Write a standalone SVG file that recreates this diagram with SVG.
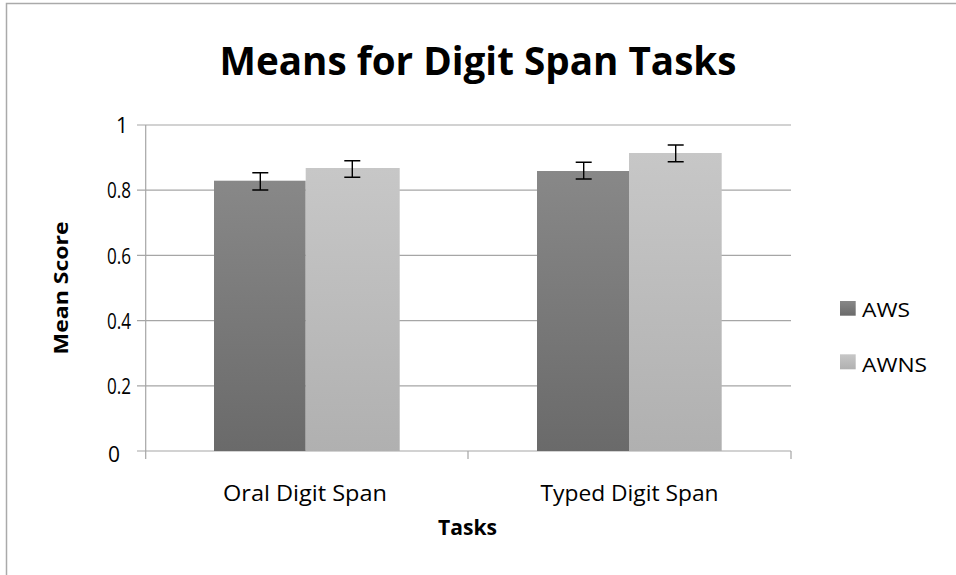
<svg xmlns="http://www.w3.org/2000/svg" width="956" height="575" viewBox="0 0 956 575">
<style>
.grid{stroke:#a6a6a6;stroke-width:1.2;fill:none}
.err{stroke:#000;stroke-width:1.4;fill:none}
.t{font-family:"Open Sans","Liberation Sans",sans-serif;fill:#000}
.lab{font-size:21px}
.b{font-weight:bold}
</style>
<defs>
<linearGradient id="gDark" x1="0" y1="0" x2="0" y2="1">
<stop offset="0" stop-color="#888888"/><stop offset="1" stop-color="#6a6a6a"/>
</linearGradient>
<linearGradient id="gLight" x1="0" y1="0" x2="0" y2="1">
<stop offset="0" stop-color="#c7c7c7"/><stop offset="1" stop-color="#b0b0b0"/>
</linearGradient>
</defs>
<rect width="956" height="575" fill="#fff"/>
<path d="M6.5,580 V3.5 H960" stroke="#aaaaaa" stroke-width="1.5" fill="none"/>
<text class="t b" x="478" y="75" font-size="38.5" text-anchor="middle" textLength="517" lengthAdjust="spacingAndGlyphs">Means for Digit Span Tasks</text>
<g id="axes">
<path class="grid" d="M137,125H791M137,190.2H791M137,255.4H791M137,320.6H791M137,385.8H791M137,451H791"/>
<path class="grid" d="M145.7,125V459M468,451V459M791,451V459"/>
</g>
<g id="ylabels" class="t lab">
<text x="128" y="133" text-anchor="end">1</text>
<text x="131" y="198" text-anchor="end" textLength="24" lengthAdjust="spacingAndGlyphs">0.8</text>
<text x="131" y="263.5" text-anchor="end" textLength="24" lengthAdjust="spacingAndGlyphs">0.6</text>
<text x="131" y="328.5" text-anchor="end" textLength="24" lengthAdjust="spacingAndGlyphs">0.4</text>
<text x="131" y="394" text-anchor="end" textLength="24" lengthAdjust="spacingAndGlyphs">0.2</text>
<text x="120" y="462" text-anchor="end">0</text>
</g>
<g id="bars">
<rect x="214" y="180.7" width="91.7" height="270.3" fill="url(#gDark)"/>
<rect x="305.7" y="168" width="94" height="283" fill="url(#gLight)"/>
<rect x="537" y="171" width="92" height="280" fill="url(#gDark)"/>
<rect x="629" y="153" width="92.7" height="298" fill="url(#gLight)"/>
</g>
<g id="connectors">
<path class="err" d="M252.3,172.7H268.3M252.3,190H268.3M260.3,172.7V190"/>
<path class="err" d="M344.3,160.7H360.3M344.3,177.3H360.3M352.3,160.7V177.3"/>
<path class="err" d="M575.7,162.3H591.7M575.7,179H591.7M583.7,162.3V179"/>
<path class="err" d="M667.7,145H683.7M667.7,161.7H683.7M675.7,145V161.7"/>
</g>
<g id="xlabels" class="t lab">
<text x="305" y="501" text-anchor="middle" textLength="164" lengthAdjust="spacingAndGlyphs">Oral Digit Span</text>
<text x="629.5" y="501" text-anchor="middle" textLength="178" lengthAdjust="spacingAndGlyphs">Typed Digit Span</text>
</g>
<text id="xtitle" class="t b" x="467.5" y="535" font-size="21" text-anchor="middle" textLength="59" lengthAdjust="spacingAndGlyphs">Tasks</text>
<text id="ytitle" class="t b" font-size="20" text-anchor="middle" transform="translate(68,288) rotate(-90)" textLength="133" lengthAdjust="spacingAndGlyphs">Mean Score</text>
<g id="legend">
<rect x="840" y="301" width="15.7" height="14.7" fill="url(#gDark)"/>
<text class="t" font-size="20.5" x="862" y="317" textLength="48" lengthAdjust="spacingAndGlyphs">AWS</text>
<rect x="840" y="354.3" width="15.7" height="15" fill="url(#gLight)"/>
<text class="t" font-size="20.5" x="862" y="371.7" textLength="65" lengthAdjust="spacingAndGlyphs">AWNS</text>
</g>
</svg>
